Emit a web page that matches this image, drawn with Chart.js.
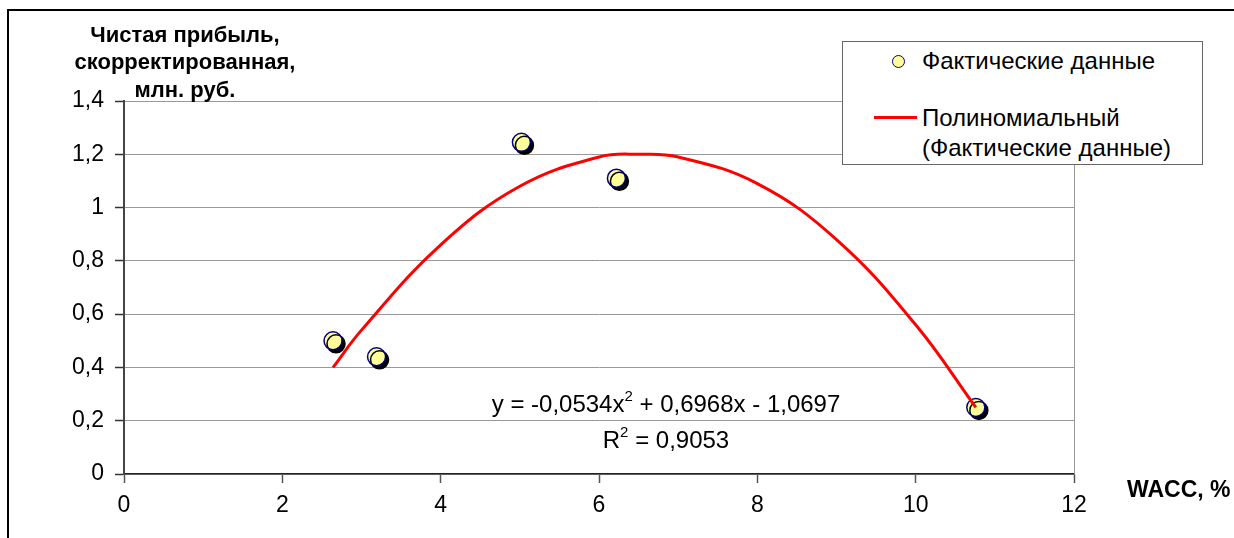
<!DOCTYPE html>
<html>
<head>
<meta charset="utf-8">
<script src="https://cdn.jsdelivr.net/npm/chart.js@4"></script>
<style>
    html, body { margin: 0; padding: 0; background: #fff; }
    #wrap { position: relative; width: 1234px; height: 538px; overflow: hidden; }
    #frame { position: absolute; left: 7px; top: 9px; width: 1400px; height: 700px; border: 2px solid #000; box-sizing: border-box; }
    #legend { position: absolute; left: 842px; top: 41px; width: 361px; height: 124px; border: 1px solid #666; box-sizing: border-box; background: #fff;
              font-family: "Liberation Sans", Arial, sans-serif; font-size: 24px; color: #000; }
    .lg { position: absolute; left: 79px; line-height: 30px; white-space: nowrap; }
    .dot { position: absolute; left: 49px; top: 13px; width: 13px; height: 13px; border-radius: 50%; background: #ffff99; border: 1.5px solid #000080; box-sizing: border-box; }
    .ln { position: absolute; left: 31px; top: 74px; width: 43px; height: 3px; background: #ff0000; }
</style>
</head>
<body>
<div id="wrap">
    <div id="frame"></div>
    <canvas id="chart" width="1234" height="538"></canvas>
    <div id="legend">
        <div class="dot"></div>
        <div class="lg" style="top:4px">Фактические данные</div>
        <div class="ln"></div>
        <div class="lg" style="top:61px">Полиномиальный<br>(Фактические данные)</div>
    </div>
</div>
<script>
// Фактические данные (WACC, % / чистая прибыль, млн. руб.)
const waccX = [2.64, 3.19, 5.02, 6.22, 10.76];
const profitY = [0.50, 0.44, 1.245, 1.11, 0.25];

const trendX = [2.64, 3, 4, 5, 6, 6.5, 7, 8, 9, 10, 10.76];
const trendY = [0.40, 0.54, 0.86, 1.08, 1.19, 1.20, 1.19, 1.09, 0.88, 0.56, 0.25];

const yTicks = [0, 0.2, 0.4, 0.6, 0.8, 1, 1.2, 1.4];
const xTicks = [0, 2, 4, 6, 8, 10, 12];

const yTitle = ["Чистая прибыль,", "скорректированная,", "млн. руб."];
const xTitle = "WACC, %";
const eqText = ["y = -0,0534x", "2", " + 0,6968x - 1,0697"];
const r2Text = ["R", "2", " = 0,9053"];

const FONT = '"Liberation Sans", Arial, sans-serif';

const decor = {
    id: "decor",
    beforeDatasetsDraw(chart) {
        const ctx = chart.ctx, a = chart.chartArea;
        ctx.save();
        ctx.strokeStyle = "#999";
        ctx.lineWidth = 1;
        ctx.beginPath();
        ctx.moveTo(a.right + 0.5, a.top);
        ctx.lineTo(a.right + 0.5, a.bottom);
        ctx.stroke();
        ctx.restore();
    },
    beforeDatasetDraw(chart, args) {
        if (args.index === 0) {
            const ctx = chart.ctx;
            ctx.save();
            ctx.shadowColor = "#000";
            ctx.shadowOffsetX = 3;
            ctx.shadowOffsetY = 3;
            ctx.shadowBlur = 0;
        }
    },
    afterDatasetDraw(chart, args) {
        if (args.index === 0) chart.ctx.restore();
    },
    afterDraw(chart) {
        const ctx = chart.ctx;
        ctx.save();
        ctx.fillStyle = "#000";
        ctx.textBaseline = "alphabetic";
        ctx.textAlign = "center";
        ctx.font = "bold 22px " + FONT;
        ctx.fillText(yTitle[0], 185, 42);
        ctx.fillText(yTitle[1], 185, 69);
        ctx.fillText(yTitle[2], 185, 97);
        ctx.textAlign = "left";
        ctx.font = "bold 23px " + FONT;
        ctx.fillText(xTitle, 1127, 497);

        // подпись уравнения тренда
        function sup(parts, cx, y) {
            ctx.font = "24px " + FONT;
            const w0 = ctx.measureText(parts[0]).width;
            const w2 = ctx.measureText(parts[2]).width;
            ctx.font = "15px " + FONT;
            const w1 = ctx.measureText(parts[1]).width;
            let x = cx - (w0 + w1 + w2) / 2;
            ctx.textAlign = "left";
            ctx.font = "24px " + FONT;
            ctx.fillText(parts[0], x, y);
            ctx.font = "15px " + FONT;
            ctx.fillText(parts[1], x + w0, y - 11);
            ctx.font = "24px " + FONT;
            ctx.fillText(parts[2], x + w0 + w1, y);
        }
        sup(eqText, 666, 412);
        sup(r2Text, 666, 448);
        ctx.restore();
    }
};

const ctx = document.getElementById("chart").getContext("2d");
new Chart(ctx, {
    type: "scatter",
    data: {
        datasets: [
            {
                label: "Фактические данные",
                data: waccX.map((x, i) => ({ x: x, y: profitY[i] })),
                backgroundColor: "#ffff99",
                borderColor: "#000080",
                borderWidth: 1.5,
                pointRadius: 9,
                pointHoverRadius: 9,
                order: 2,
            },
            {
                label: "Полиномиальный (Фактические данные)",
                data: trendX.map((x, i) => ({ x: x, y: trendY[i] })),
                showLine: true,
                borderColor: "#ff0000",
                borderWidth: 3,
                pointRadius: 0,
                tension: 0.4,
                fill: false,
                order: 1,
            },
        ],
    },
    options: {
        responsive: false,
        animation: false,
        events: [],
        layout: { padding: { left: 0, top: 101, right: 160, bottom: 0 } },
        plugins: {
            legend: { display: false },
            tooltip: { enabled: false },
        },
        scales: {
            x: {
                type: "linear",
                min: 0,
                max: 12,
                afterBuildTicks: (s) => { s.ticks = xTicks.map(v => ({ value: v })); },
                afterFit: (s) => { s.height = 64; },
                grid: { drawOnChartArea: false, drawTicks: true, tickLength: 9, tickColor: "#555", tickWidth: 1.5 },
                border: { color: "#222", width: 1.5 },
                ticks: { color: "#000", font: { family: FONT, size: 23 }, padding: 9, maxRotation: 0 },
            },
            y: {
                min: 0,
                max: 1.4,
                afterBuildTicks: (s) => { s.ticks = yTicks.map(v => ({ value: v })); },
                afterFit: (s) => { s.width = 124; },
                grid: { color: "#999", lineWidth: 1, drawTicks: true, tickLength: 9, tickColor: "#333", tickWidth: 1.5 },
                border: { color: "#444", width: 2 },
                ticks: {
                    color: "#000",
                    font: { family: FONT, size: 23 },
                    padding: 11,
                    callback: (v) => String(v).replace(".", ","),
                },
            },
        },
    },
    plugins: [decor],
});
</script>
</body>
</html>
